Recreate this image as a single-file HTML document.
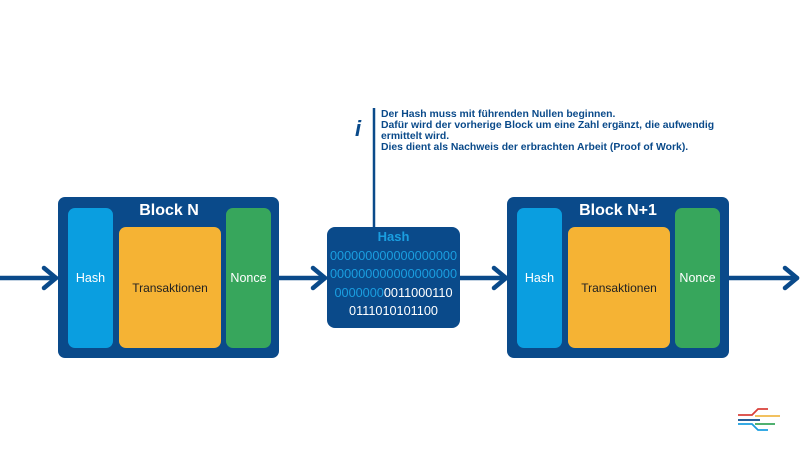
<!DOCTYPE html>
<html>
<head>
<meta charset="utf-8">
<style>
html,body{margin:0;padding:0;background:#fff;}
svg{display:block;}
text{font-family:"Liberation Sans",Arial,sans-serif;}
</style>
</head>
<body>
<svg width="800" height="450" viewBox="0 0 800 450" xmlns="http://www.w3.org/2000/svg">
  <rect width="800" height="450" fill="#fff"/>

  <!-- connectors -->
  <g stroke="#0a4a8a" stroke-width="4.5" fill="none" stroke-linecap="round" stroke-linejoin="round">
    <line x1="0" y1="278" x2="56" y2="278"/>
    <polyline points="44,268 56,278 44,288"/>
    <line x1="279" y1="278" x2="325" y2="278"/>
    <polyline points="313,268 325,278 313,288"/>
    <line x1="460" y1="278" x2="506" y2="278"/>
    <polyline points="494,268 506,278 494,288"/>
    <line x1="729" y1="278" x2="797" y2="278"/>
    <polyline points="785,268 797,278 785,288"/>
    <line x1="374" y1="108" x2="374" y2="228" stroke-width="2.5" stroke-linecap="butt"/>
  </g>

  <!-- Block N -->
  <rect x="58" y="197" width="221" height="161" rx="7" fill="#0a4a8a"/>
  <text x="169" y="215" font-size="16" font-weight="bold" fill="#fff" text-anchor="middle">Block N</text>
  <rect x="68" y="208" width="45" height="140" rx="7" fill="#0a9ee0"/>
  <rect x="119" y="227" width="102" height="121" rx="7" fill="#f5b334"/>
  <rect x="226" y="208" width="45" height="140" rx="7" fill="#37a65c"/>
  <text x="90.5" y="282" font-size="12.5" fill="#fff" text-anchor="middle">Hash</text>
  <text x="170" y="292" font-size="12" fill="#222" text-anchor="middle">Transaktionen</text>
  <text x="248.5" y="282" font-size="12.5" fill="#fff" text-anchor="middle">Nonce</text>

  <!-- Hash box -->
  <rect x="327" y="227" width="133" height="101" rx="8" fill="#0a4a8a"/>
  <text x="393.5" y="241" font-size="13" font-weight="bold" fill="#1a9ee0" text-anchor="middle">Hash</text>
  <g font-size="12.7" text-anchor="middle">
    <text x="393.5" y="260" fill="#1a9ee0">000000000000000000</text>
    <text x="393.5" y="278" fill="#1a9ee0">000000000000000000</text>
    <text x="393.5" y="297" fill="#1a9ee0">0000000<tspan fill="#fff">0011000110</tspan></text>
    <text x="393.5" y="315" fill="#fff">0111010101100</text>
  </g>

  <!-- info -->
  <text x="358" y="136" font-size="22" font-weight="bold" font-style="italic" fill="#0a4a8a" font-family="Liberation Serif, serif" text-anchor="middle">i</text>
  <g font-size="10.4" font-weight="bold" fill="#0a4a8a">
    <text x="381" y="117">Der Hash muss mit führenden Nullen beginnen.</text>
    <text x="381" y="128">Dafür wird der vorherige Block um eine Zahl ergänzt, die aufwendig</text>
    <text x="381" y="139">ermittelt wird.</text>
    <text x="381" y="150">Dies dient als Nachweis der erbrachten Arbeit (Proof of Work).</text>
  </g>

  <!-- Block N+1 -->
  <rect x="507" y="197" width="222" height="161" rx="7" fill="#0a4a8a"/>
  <text x="618" y="215" font-size="16" font-weight="bold" fill="#fff" text-anchor="middle">Block N+1</text>
  <rect x="517" y="208" width="45" height="140" rx="7" fill="#0a9ee0"/>
  <rect x="568" y="227" width="102" height="121" rx="7" fill="#f5b334"/>
  <rect x="675" y="208" width="45" height="140" rx="7" fill="#37a65c"/>
  <text x="539.5" y="282" font-size="12.5" fill="#fff" text-anchor="middle">Hash</text>
  <text x="619" y="292" font-size="12" fill="#222" text-anchor="middle">Transaktionen</text>
  <text x="697.5" y="282" font-size="12.5" fill="#fff" text-anchor="middle">Nonce</text>

  <!-- logo -->
  <g fill="none" stroke-width="1.8" stroke-linecap="butt">
    <polyline points="738,415 752,415 758,409 768,409" stroke="#d9403a"/>
    <line x1="755" y1="416" x2="780" y2="416" stroke="#f0b84a"/>
    <line x1="738" y1="420" x2="760" y2="420" stroke="#0a4a8a"/>
    <polyline points="738,424 752,424 758,430 768,430" stroke="#1a9ee0"/>
    <line x1="755" y1="424" x2="775" y2="424" stroke="#37a65c"/>
  </g>
</svg>
</body>
</html>
